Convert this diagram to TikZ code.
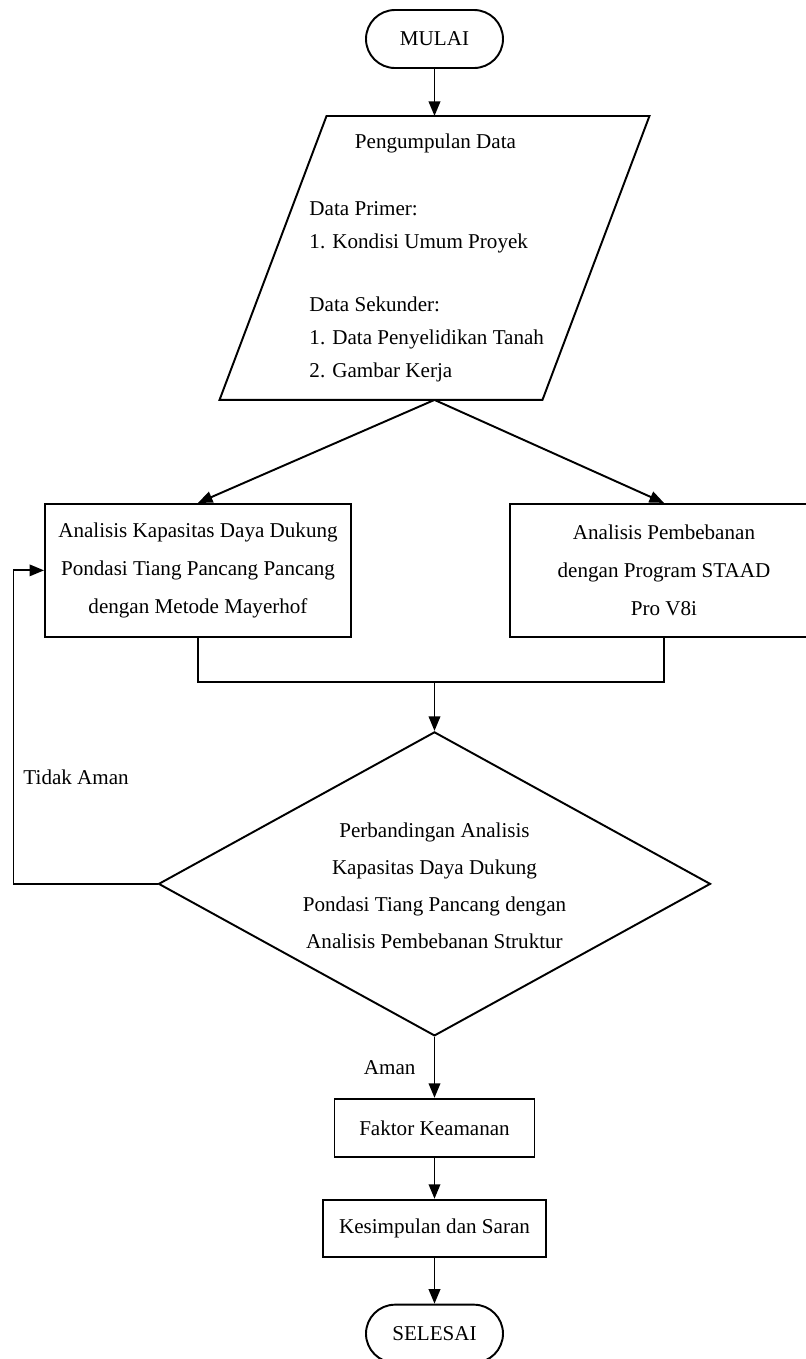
\documentclass[tikz,border=0pt]{standalone}
\usepackage{fontspec}
\setmainfont{Liberation Serif}
\usetikzlibrary{arrows.meta,calc,positioning,shapes.geometric}

\begin{document}
\begin{tikzpicture}[
    font=\fontsize{12}{21.5}\selectfont,
    line width=1.1pt,
    terminal/.style={
        draw,
        rounded corners=0.58cm,
        minimum width=2.74cm,
        minimum height=1.16cm,
        inner sep=0pt
    },
    paraframe/.style={
        minimum width=8.56cm,
        minimum height=5.64cm,
        inner sep=0pt
    },
    box/.style={
        draw,
        minimum width=6.12cm,
        minimum height=2.66cm,
        align=center,
        inner sep=0pt
    },
    smallbox/.style={
        draw,
        minimum height=1.16cm,
        align=center,
        inner sep=0pt
    },
    decision/.style={
        draw,
        diamond,
        minimum width=11.04cm,
        minimum height=6.08cm,
        inner sep=0pt
    },
    lbl/.style={inner sep=0pt},
    arr/.style={-{Triangle[length=2.9mm,width=2.3mm]}}
]
    \useasboundingbox (-8.69,0.78) rectangle (7.43,-26.4);
    %% Mulai
    \node[terminal] (mulai) at (0,0) {MULAI};
    %% Pengumpulan data (jajaran genjang)
    \node[paraframe, below=0.94cm of mulai] (data) {};
    \draw ($(data.north west)+(2.14,0)$) -- (data.north east)
        -- ($(data.south east)+(-2.14,0)$) -- (data.south west) -- cycle;
    \node[lbl, anchor=base] (datatitle) at ($(data.north)+(0.02,-0.66)$) {Pengumpulan Data};
    \node[lbl, align=left, anchor=north west, font=\fontsize{12}{18.7}\selectfont] (datalist)
        at ($(data.center)+(-2.52,1.14)$)
        {Data Primer:\\1. Kondisi Umum Proyek\\[17pt]Data Sekunder:\\1. Data Penyelidikan Tanah\\2. Gambar Kerja};
    %% Analisis
    \node[box, below=2.06cm of data, xshift=-4.73cm] (kapasitas)
        {Analisis Kapasitas Daya Dukung\\Pondasi Tiang Pancang Pancang\\dengan Metode Mayerhof};
    \node[box, minimum width=6.16cm, below=2.06cm of data, xshift=4.59cm] (pembebanan)
        {Analisis Pembebanan\\dengan Program STAAD\\Pro V8i};
    %% Perbandingan
    \node[decision, below=6.62cm of data] (banding) {};
    \node[lbl, align=center, font=\fontsize{12}{21.2}\selectfont] (bandingtext) at ($(banding.center)+(0,-0.04)$)
        {Perbandingan Analisis\\Kapasitas Daya Dukung\\Pondasi Tiang Pancang dengan\\Analisis Pembebanan Struktur};
    %% Hasil
    \node[smallbox, minimum width=4cm, below=1.22cm of banding] (faktor) {Faktor Keamanan};
    \node[smallbox, minimum width=4.46cm, minimum height=1.14cm, below=0.82cm of faktor] (kesimpulan) {Kesimpulan dan Saran};
    \node[terminal, below=0.92cm of kesimpulan] (selesai) {SELESAI};

    %% Titik bantu
    \coordinate[above=0.98cm of banding.north] (gabung);
    \coordinate[left=2.88cm of banding.west] (balik);
    \node[lbl, anchor=west] (tidakaman) at ($(balik)+(0.18,2.14)$) {Tidak Aman};

    %% Panah
    \draw[arr] (mulai) -- (data);
    \draw[arr] (data.south) -- (kapasitas.north);
    \draw[arr] (data.south) -- (pembebanan.north);
    \draw (kapasitas.south) |- (gabung) -| (pembebanan.south);
    \draw[arr] (gabung) -- (banding.north);
    \draw[arr] (banding.west) -- (balik) |- (kapasitas.west);
    \draw[arr] (banding) -- node[lbl, left=0.36cm] (aman) {Aman} (faktor);
    \draw[arr] (faktor) -- (kesimpulan);
    \draw[arr] (kesimpulan) -- (selesai);
\end{tikzpicture}
\end{document}
